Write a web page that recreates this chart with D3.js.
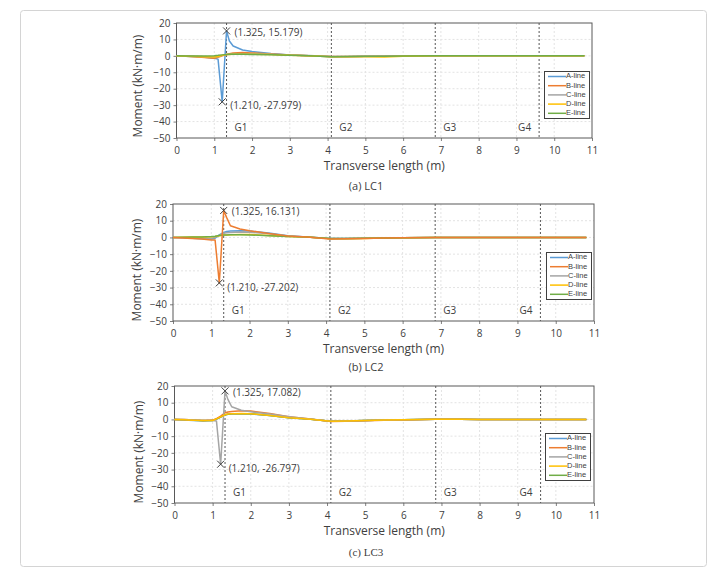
<!DOCTYPE html>
<html><head><meta charset="utf-8">
<script src="https://cdn.jsdelivr.net/npm/d3@7"></script>
<style>body{margin:0;background:#fff}svg{display:block}</style>
</head><body>
<svg id="c" width="718" height="574"></svg>
<script>
// ---------- data ----------
const X = [0, 0.25, 0.5, 0.75, 1.0, 1.1, 1.21, 1.325, 1.4, 1.5, 1.75, 2.0, 2.5, 3.0, 3.5, 4.1, 4.5, 5.0, 5.5, 6.0, 6.85, 7.5, 8.0, 8.5, 9.0, 9.6, 10.0, 10.5, 10.8];
const seriesNames = ["A-line", "B-line", "C-line", "D-line", "E-line"];
const xTicks = [0,1,2,3,4,5,6,7,8,9,10,11];
const yTicks = [-50,-40,-30,-20,-10,0,10,20];
const girderX = [1.325, 4.1, 6.85, 9.6];
const girderLabels = ["G1","G2","G3","G4"];
const captions = ["(a)  LC1", "(b)  LC2", "(c)  LC3"];

// LC1
const lc1A = [0,-0.2,-0.5,-0.9,-1.4,-2.0,-27.979,15.179,9.0,6.0,3.6,2.6,1.4,0.5,0.1,-0.5,-0.5,-0.35,-0.2,-0.1,0,0,0,0,0,0,0,0,0];
const lc1B = [0,-0.3,-0.6,-1.0,-1.4,-0.8,0.1,0.8,1.3,1.8,2.0,1.8,1.2,0.5,0.1,-0.4,-0.4,-0.3,-0.2,-0.1,0,0,0,0,0,0,0,0,0];
const lc1C = [0,-0.1,-0.3,-0.5,-0.7,-0.5,0.3,0.9,1.0,1.1,1.3,1.3,1.0,0.5,0.2,-0.4,-0.4,-0.3,-0.2,-0.1,0,0,0,0,0,0,0,0,0];
const lc1D = [0,-0.2,-0.4,-0.6,-0.7,-0.4,0.3,0.8,0.9,1.0,1.0,1.0,0.8,0.4,0.0,-0.6,-0.6,-0.6,-0.7,-0.3,0,0,0,0,0,0,0,0,0];
const lc1E = [0,-0.05,-0.1,-0.1,0.1,0.3,0.6,0.9,1.0,1.0,1.0,0.9,0.7,0.3,0.1,-0.5,-0.4,-0.3,-0.2,-0.1,0,0,0,0,0,0,0,0,0];
// LC2
const lc2A = [0,-0.2,-0.5,-0.8,-1.0,-0.5,1.5,3.0,3.5,3.8,4.0,3.8,2.6,1.0,0.3,-0.7,-0.7,-0.5,-0.3,-0.2,0,0,0,0,0,0,0,0,0];
const lc2B = [0,-0.3,-0.6,-1.0,-1.5,-1.6,-27.202,16.131,12.0,7.0,5.0,4.0,2.4,0.9,0.2,-0.9,-0.8,-0.6,-0.4,-0.2,0,0,0,0,0,0,0,0,0];
const lc2C = [0,-0.1,-0.3,-0.5,-0.5,0,1.2,2.5,2.8,3.0,3.2,3.1,2.2,0.9,0.3,-0.6,-0.6,-0.5,-0.3,-0.2,0,0,0,0,0,0,0,0,0];
const lc2D = [0,0.1,0.2,0.3,0.4,0.6,1.0,1.4,1.5,1.6,1.7,1.7,1.2,0.6,0.2,-0.8,-0.8,-0.6,-0.4,-0.2,0,0,0,0,0,0,0,0,0];
const lc2E = [0,0.1,0.2,0.3,0.5,0.7,1.1,1.5,1.5,1.6,1.6,1.5,1.0,0.5,0.2,-0.7,-0.7,-0.5,-0.4,-0.2,0,0,0,0,0,0,0,0,0];
// LC3
const lc3A = [0,-0.3,-0.6,-0.8,-0.7,0.2,1.4,2.7,3.1,3.3,3.4,3.3,2.4,1.0,0.3,-1.1,-0.9,-0.6,-0.4,-0.2,0.1,0.1,0,0,0,0,0,0,0];
const lc3B = [0,-0.1,-0.3,-0.6,-0.4,0.5,2.0,4.0,4.5,4.8,5.2,5.0,3.6,1.6,0.4,-1.3,-1.1,-0.8,-0.5,-0.3,0.1,0.1,0,0,0,0,0,0,0];
const lc3C = [0,-0.1,-0.3,-0.5,-0.7,-0.9,-26.797,17.082,12.0,7.6,5.5,4.6,3.2,1.6,0.4,-1.1,-0.9,-0.6,-0.4,-0.2,0.1,0.1,0,0,0,0,0,0,0];
const lc3D = [0,-0.2,-0.5,-0.7,-0.6,0.3,1.5,2.8,3.2,3.4,3.5,3.4,2.4,1.0,0.3,-1.1,-0.9,-0.6,-0.4,-0.2,0.1,0.1,0,0,0,0,0,0,0];
const lc3E = [0,-0.25,-0.55,-0.75,-0.65,0.25,1.45,2.75,3.15,3.35,3.45,3.35,2.35,1.0,0.3,-1.1,-0.9,-0.6,-0.4,-0.2,0.1,0.1,0,0,0,0,0,0,0];

const lc1Marks = [[1.325, 15.179], [1.210, -27.979]];
const lc2Marks = [[1.325, 16.131], [1.210, -27.202]];
const lc3Marks = [[1.325, 17.082], [1.210, -26.797]];

// ---------- layout / style ----------
const colors = ["#5B9BD5", "#ED7D31", "#A5A5A5", "#FFC000", "#70AD47"];
const FONT = "'Open Sans', 'Noto Sans', sans-serif";
const LFONT = "'Liberation Sans', Arial, sans-serif";
const panels = [
  {series:[lc1A,lc1B,lc1C,lc1D,lc1E], order:[0,1,2,3,4], marks:lc1Marks, L:176.5, R:592, T:23, B:138, ytx:139, yty:86, leg:[544,71], cap:187, capFont:FONT},
  {series:[lc2A,lc2B,lc2C,lc2D,lc2E], order:[0,2,3,4,1], marks:lc2Marks, L:173, R:594, T:204, B:321, ytx:138, yty:270, leg:[546,252], cap:368, capFont:FONT},
  {series:[lc3A,lc3B,lc3C,lc3D,lc3E], order:[0,4,1,2,3], marks:lc3Marks, L:174.5, R:594, T:386, B:503, ytx:140, yty:452, leg:[545,433], cap:553, capFont:"'Liberation Serif', serif"}
];

const svg = d3.select("#c");
svg.append("rect").attr("x",20.5).attr("y",10.5).attr("width",686).attr("height",556)
  .attr("rx",3).attr("fill","#fff").attr("stroke","#d4d4d4").attr("stroke-width",1);

panels.forEach((p, pi) => {
  const x = d3.scaleLinear().domain([0, 11]).range([p.L, p.R]);
  const y = d3.scaleLinear().domain([-50, 20]).range([p.B, p.T]);
  const g = svg.append("g");

  // gridlines
  g.selectAll(".vg").data(xTicks.slice(1, -1)).join("line")
    .attr("x1", d => x(d)).attr("x2", d => x(d)).attr("y1", p.T).attr("y2", p.B)
    .attr("stroke", "#e3e3e3").attr("stroke-dasharray", "2,2");
  g.selectAll(".hg").data(yTicks.slice(1, -1)).join("line")
    .attr("x1", p.L).attr("x2", p.R).attr("y1", d => y(d)).attr("y2", d => y(d))
    .attr("stroke", "#e3e3e3").attr("stroke-dasharray", "2,2");

  // axes
  const xa = g.append("g").attr("transform", `translate(0,${p.B})`)
    .call(d3.axisBottom(x).tickValues(xTicks).tickSize(3).tickPadding(6));
  const ya = g.append("g").attr("transform", `translate(${p.L},0)`)
    .call(d3.axisLeft(y).tickValues(yTicks).tickSize(3).tickPadding(3));
  [xa, ya].forEach(a => {
    a.select(".domain").remove();
    a.selectAll("line").attr("stroke", "#7f7f7f");
    a.selectAll("text").attr("font-family", FONT).attr("font-size", 10).attr("fill", "#404040");
  });

  // plot border
  g.append("rect").attr("x", p.L).attr("y", p.T).attr("width", p.R - p.L).attr("height", p.B - p.T)
    .attr("fill", "none").attr("stroke", "#595959").attr("stroke-width", 1);

  // girder lines
  girderX.forEach((gx, i) => {
    g.append("line").attr("x1", x(gx)).attr("x2", x(gx)).attr("y1", p.T).attr("y2", p.B)
      .attr("stroke", "#555").attr("stroke-width", 1).attr("stroke-dasharray", "2,2");
    const last = i === girderX.length - 1;
    g.append("text").attr("x", last ? x(gx) - 8 : x(gx) + 8).attr("y", y(-44))
      .attr("text-anchor", last ? "end" : "start").attr("dominant-baseline", "middle")
      .attr("font-family", FONT).attr("font-size", 10).attr("fill", "#404040").text(girderLabels[i]);
  });

  // lines
  const line = d3.line().x((d, i) => x(X[i])).y(d => y(d));
  p.order.forEach(si => {
    g.append("path").datum(p.series[si]).attr("d", line)
      .attr("fill", "none").attr("stroke", colors[si]).attr("stroke-width", 1.5)
      .attr("stroke-linejoin", "round");
  });

  // marks
  p.marks.forEach((m, mi) => {
    const cx = x(m[0]), cy = y(m[1]), s = 3.5;
    g.append("path").attr("d", `M${cx-s},${cy-s}L${cx+s},${cy+s}M${cx-s},${cy+s}L${cx+s},${cy-s}`)
      .attr("stroke", "#404040").attr("stroke-width", 1);
    g.append("text").attr("x", cx + 8).attr("y", cy + (mi === 0 ? 2 : 5))
      .attr("dominant-baseline", "middle")
      .attr("font-family", FONT).attr("font-size", 10).attr("fill", "#404040")
      .text(`(${m[0].toFixed(3)}, ${m[1].toFixed(3)})`);
  });

  // legend
  const [lx, ly] = p.leg;
  const lg = g.append("g");
  lg.append("rect").attr("x", lx + 0.5).attr("y", ly + 0.5).attr("width", 45).attr("height", 47)
    .attr("fill", "#fff").attr("stroke", "#404040");
  seriesNames.forEach((n, i) => {
    const yy = ly + 5.5 + i * 9.2;
    lg.append("line").attr("x1", lx + 4).attr("x2", lx + 22).attr("y1", yy).attr("y2", yy)
      .attr("stroke", colors[i]).attr("stroke-width", 1.5);
    lg.append("text").attr("x", lx + 22).attr("y", yy).attr("dominant-baseline", "middle")
      .attr("font-family", LFONT).attr("font-size", 7.5).attr("fill", "#404040").text(n);
  });

  // axis titles
  g.append("text").attr("transform", `translate(${p.ytx},${p.yty}) rotate(-90)`)
    .attr("text-anchor", "middle").attr("dominant-baseline", "middle")
    .attr("font-family", FONT).attr("font-size", 12).attr("fill", "#404040").text("Moment (kN·m/m)");
  g.append("text").attr("x", (p.L + p.R) / 2).attr("y", p.B + 29)
    .attr("text-anchor", "middle").attr("dominant-baseline", "middle")
    .attr("font-family", FONT).attr("font-size", 12).attr("fill", "#404040").text("Transverse length (m)");
  // caption
  svg.append("text").attr("x", 366).attr("y", p.cap).attr("text-anchor", "middle")
    .attr("dominant-baseline", "middle").attr("font-family", p.capFont).attr("font-size", 11)
    .attr("fill", "#404040").text(captions[pi]);
});
</script>
</body></html>
